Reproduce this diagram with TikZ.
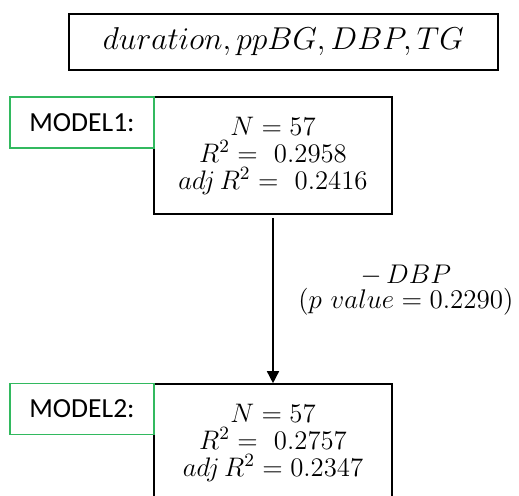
\RequirePackage{fix-cm}
\documentclass[tikz,border=0pt]{standalone}
\usepackage{fontspec}
\newfontfamily\labelfont{Carlito}
\usetikzlibrary{positioning,arrows.meta}
\definecolor{labelgreen}{RGB}{50,185,95}
\begin{document}
\begin{tikzpicture}[x=0.5pt, y=-0.5pt,
    every node/.style={font=\fontsize{13.4}{13.5}\selectfont},
    varbox/.style={draw, line width=0.8pt, minimum width=214.5pt, minimum height=28pt,
      font=\fontsize{15.8}{18}\selectfont},
    statbox/.style={draw, line width=0.8pt, minimum width=119pt, minimum height=58.5pt,
      align=center, inner sep=0pt},
    modellabel/.style={draw=labelgreen, line width=0.7pt, minimum width=72pt,
      minimum height=25.5pt, font=\labelfont\fontsize{13.8}{15}\selectfont},
    arrow/.style={-{Triangle[length=6pt,width=6pt]}, line width=0.7pt},
  ]
  \useasboundingbox (0,0) rectangle (519,495);
  % variables in the full model
  \node[varbox] (vars) at (283.5,42) {$duration, ppBG, DBP, TG$};
  % model 1
  \node[statbox] (m1) at (273,155.5) {$N = 57$\\ $R^2 =\ 0.2958$\\ $adj\,R^2 =\ 0.2416$};
  \node[modellabel] (m1lab) at (82,122.5) {MODEL1:};
  % model 2
  \node[statbox] (m2) at (273,442.5) {$N = 57$\\ $R^2 =\ 0.2757$\\ $adj\,R^2 = 0.2347$};
  \node[modellabel] (m2lab) at (82,409) {MODEL2:};
  % step
  \draw[arrow] ([yshift=-1.5pt]m1.south) -- (m2.north)
    node[pos=0.44, right=9pt, align=center, font=\fontsize{13.5}{12.5}\selectfont] (drop)
      {$-\,DBP$\\ $(p\ value = 0.2290)$};
\end{tikzpicture}
\end{document}
